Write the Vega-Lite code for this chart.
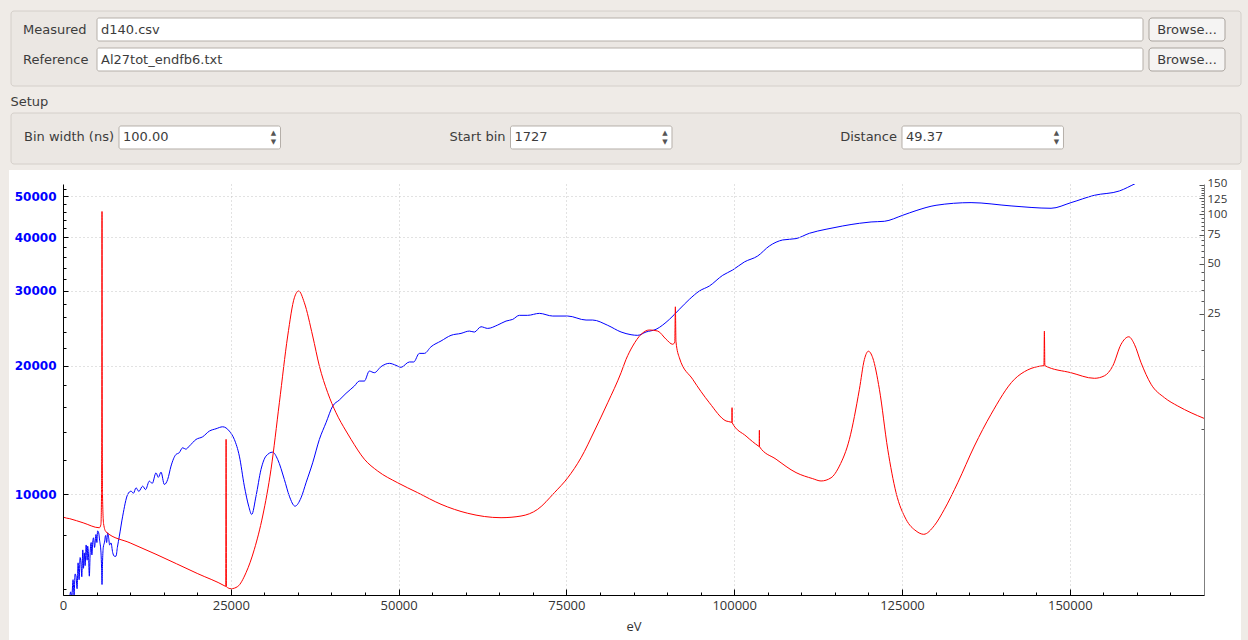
{
  "$schema": "https://vega.github.io/schema/vega-lite/v6.json",
  "background": "#efebe7",
  "padding": {"left": 8, "top": 10, "right": 8, "bottom": 0},
  "bounds": "flush",
  "spacing": 20,
  "config": {"view": {"stroke": null}, "font": "DejaVu Sans"},
  "datasets": {
    "files": [
      {"label": "Measured", "file": "d140.csv"},
      {"label": "Reference", "file": "Al27tot_endfb6.txt"}
    ],
    "setup": [
      {"label": "Bin width (ns)", "value": "100.00"},
      {"label": "Start bin", "value": "1727"},
      {"label": "Distance", "value": "49.37"}
    ],
    "measured": [
      {"E": 900, "c": 5500}, {"E": 1150, "c": 5900}, {"E": 1300, "c": 5700}, {"E": 1500, "c": 6300}, {"E": 1650, "c": 5800},
      {"E": 1800, "c": 6500}, {"E": 1937, "c": 6421}, {"E": 2100, "c": 6000}, {"E": 2250, "c": 6900}, {"E": 2400, "c": 6300},
      {"E": 2550, "c": 7100}, {"E": 2682, "c": 6900}, {"E": 2800, "c": 6400}, {"E": 2950, "c": 7400}, {"E": 3050, "c": 6700},
      {"E": 3179, "c": 7281}, {"E": 3300, "c": 6800}, {"E": 3450, "c": 7600}, {"E": 3600, "c": 7000}, {"E": 3675, "c": 7550},
      {"E": 3800, "c": 7200}, {"E": 3924, "c": 6421}, {"E": 4050, "c": 7300}, {"E": 4200, "c": 7700}, {"E": 4300, "c": 7200},
      {"E": 4421, "c": 7686}, {"E": 4550, "c": 7900}, {"E": 4700, "c": 7500}, {"E": 4917, "c": 8042}, {"E": 5050, "c": 7700},
      {"E": 5150, "c": 8200}, {"E": 5315, "c": 8114}, {"E": 5450, "c": 7800}, {"E": 5662, "c": 7281}, {"E": 5750, "c": 6700},
      {"E": 5812, "c": 6138}, {"E": 5900, "c": 7000}, {"E": 6000, "c": 7500}, {"E": 6159, "c": 7686}, {"E": 6350, "c": 8000},
      {"E": 6500, "c": 7700}, {"E": 6656, "c": 8114}, {"E": 6800, "c": 7900}, {"E": 6950, "c": 7600}, {"E": 7153, "c": 7686},
      {"E": 7400, "c": 7300}, {"E": 7649, "c": 7151}, {"E": 7898, "c": 7151}, {"E": 8100, "c": 7500}, {"E": 8395, "c": 7970},
      {"E": 8891, "c": 8878}, {"E": 9636, "c": 9984}, {"E": 10133, "c": 10163}, {"E": 10500, "c": 10050}, {"E": 10878, "c": 10349},
      {"E": 11300, "c": 10150}, {"E": 11871, "c": 10442}, {"E": 12300, "c": 10250}, {"E": 12865, "c": 10728}, {"E": 13300, "c": 10600},
      {"E": 13858, "c": 11220}, {"E": 14200, "c": 10950}, {"E": 14603, "c": 11261}, {"E": 15100, "c": 10537}, {"E": 15597, "c": 10825},
      {"E": 16093, "c": 11635}, {"E": 16838, "c": 12393}, {"E": 17300, "c": 12500}, {"E": 17831, "c": 12848}, {"E": 18300, "c": 12750},
      {"E": 18825, "c": 12964}, {"E": 19818, "c": 13436}, {"E": 20812, "c": 13633}, {"E": 21805, "c": 14057}, {"E": 22799, "c": 14236},
      {"E": 23792, "c": 14389}, {"E": 24785, "c": 14057}, {"E": 25530, "c": 13436}, {"E": 26276, "c": 12282}, {"E": 27021, "c": 10442},
      {"E": 27667, "c": 9372}, {"E": 28114, "c": 8961}, {"E": 28757, "c": 9892}, {"E": 29502, "c": 11428}, {"E": 30247, "c": 12282},
      {"E": 31241, "c": 12547}, {"E": 31986, "c": 12060}, {"E": 32980, "c": 10825}, {"E": 33724, "c": 9892}, {"E": 34569, "c": 9372},
      {"E": 35463, "c": 9804}, {"E": 36208, "c": 10632}, {"E": 37201, "c": 11846}, {"E": 38195, "c": 13436}, {"E": 39188, "c": 14710},
      {"E": 40182, "c": 16089}, {"E": 41175, "c": 16629}, {"E": 42169, "c": 17236}, {"E": 43409, "c": 17930}, {"E": 44154, "c": 18420},
      {"E": 44899, "c": 18420}, {"E": 45644, "c": 19440}, {"E": 46389, "c": 19270}, {"E": 47382, "c": 19910}, {"E": 48624, "c": 20270},
      {"E": 49618, "c": 20050}, {"E": 50363, "c": 19840}, {"E": 51604, "c": 20420}, {"E": 52250, "c": 20420}, {"E": 53094, "c": 21390},
      {"E": 53839, "c": 21390}, {"E": 54833, "c": 22170}, {"E": 56323, "c": 22870}, {"E": 57813, "c": 23580}, {"E": 59303, "c": 23830},
      {"E": 60545, "c": 24130}, {"E": 61290, "c": 24000}, {"E": 62283, "c": 24700}, {"E": 63277, "c": 24480}, {"E": 64767, "c": 24930},
      {"E": 66009, "c": 25470}, {"E": 67002, "c": 25700}, {"E": 67995, "c": 26270}, {"E": 69237, "c": 26270}, {"E": 70976, "c": 26550},
      {"E": 72963, "c": 26170}, {"E": 75198, "c": 26170}, {"E": 77930, "c": 25610}, {"E": 78915, "c": 25610}, {"E": 81158, "c": 24890},
      {"E": 83145, "c": 24010}, {"E": 84635, "c": 23660}, {"E": 85625, "c": 23580}, {"E": 86867, "c": 24010}, {"E": 88357, "c": 24360},
      {"E": 90344, "c": 25700}, {"E": 91834, "c": 27140}, {"E": 93324, "c": 28640}, {"E": 94814, "c": 29960}, {"E": 96304, "c": 30780},
      {"E": 98291, "c": 32610}, {"E": 99777, "c": 33560}, {"E": 101520, "c": 35050}, {"E": 103507, "c": 36200}, {"E": 105245, "c": 38210},
      {"E": 107232, "c": 39470}, {"E": 109219, "c": 39760}, {"E": 111206, "c": 40920}, {"E": 113689, "c": 41820}, {"E": 116172, "c": 42570},
      {"E": 118656, "c": 43190}, {"E": 120395, "c": 43500}, {"E": 122381, "c": 43660}, {"E": 125113, "c": 45100}, {"E": 127100, "c": 46250},
      {"E": 130077, "c": 47600}, {"E": 135292, "c": 48290}, {"E": 141253, "c": 47440}, {"E": 147213, "c": 46840}, {"E": 150194, "c": 48290},
      {"E": 153670, "c": 50240}, {"E": 157395, "c": 51430}, {"E": 159879, "c": 53620}, {"E": 163000, "c": 56500}
    ],
    "reference": [
      {"E": 0, "xs": 28.0}, {"E": 40, "xs": 1.46}, {"E": 1000, "xs": 1.43}, {"E": 3000, "xs": 1.35}, {"E": 5414, "xs": 1.26},
      {"E": 5650, "xs": 1.32}, {"E": 5740, "xs": 2.0}, {"E": 5790, "xs": 10}, {"E": 5812, "xs": 104}, {"E": 5835, "xs": 10},
      {"E": 5885, "xs": 2.0}, {"E": 6050, "xs": 1.33}, {"E": 6408, "xs": 1.19}, {"E": 10000, "xs": 1.02}, {"E": 13858, "xs": 0.87},
      {"E": 20000, "xs": 0.666}, {"E": 24150, "xs": 0.558}, {"E": 24250, "xs": 0.555},
      {"E": 24300, "xs": 4.33}, {"E": 24350, "xs": 0.553}, {"E": 25033, "xs": 0.538}, {"E": 26026, "xs": 0.555}, {"E": 27270, "xs": 0.673},
      {"E": 28510, "xs": 0.933}, {"E": 29752, "xs": 1.484}, {"E": 30994, "xs": 2.85}, {"E": 32236, "xs": 7.21}, {"E": 33478, "xs": 18.3},
      {"E": 34471, "xs": 31.2}, {"E": 35117, "xs": 34.3}, {"E": 35962, "xs": 29.1}, {"E": 37201, "xs": 18.3}, {"E": 38195, "xs": 12.04},
      {"E": 39436, "xs": 8.30}, {"E": 40678, "xs": 6.27}, {"E": 42169, "xs": 4.86}, {"E": 42912, "xs": 4.33}, {"E": 44899, "xs": 3.28},
      {"E": 46886, "xs": 2.78}, {"E": 49866, "xs": 2.36}, {"E": 52846, "xs": 2.055}, {"E": 56323, "xs": 1.748}, {"E": 60297, "xs": 1.542},
      {"E": 65264, "xs": 1.45}, {"E": 68244, "xs": 1.484}, {"E": 70727, "xs": 1.63}, {"E": 73211, "xs": 2.055}, {"E": 75198, "xs": 2.53},
      {"E": 77185, "xs": 3.35}, {"E": 79171, "xs": 4.86}, {"E": 81158, "xs": 7.21}, {"E": 83145, "xs": 10.96}, {"E": 83887, "xs": 13.2},
      {"E": 84880, "xs": 15.9}, {"E": 86122, "xs": 18.7}, {"E": 87364, "xs": 19.9}, {"E": 88606, "xs": 19.6}, {"E": 89848, "xs": 17.5},
      {"E": 90841, "xs": 16.3}, {"E": 91150, "xs": 16.8}, {"E": 91238, "xs": 27.5}, {"E": 91330, "xs": 16.9}, {"E": 91834, "xs": 13.5},
      {"E": 93821, "xs": 10.0}, {"E": 96304, "xs": 7.21}, {"E": 98788, "xs": 5.59}, {"E": 99600, "xs": 5.49}, {"E": 99670, "xs": 5.47},
      {"E": 99682, "xs": 6.73}, {"E": 99694, "xs": 5.46}, {"E": 101768, "xs": 4.53}, {"E": 103650, "xs": 3.93}, {"E": 103730, "xs": 3.91},
      {"E": 103755, "xs": 4.91}, {"E": 103780, "xs": 3.90}, {"E": 106239, "xs": 3.28}, {"E": 109219, "xs": 2.72}, {"E": 111703, "xs": 2.50},
      {"E": 112945, "xs": 2.42}, {"E": 114434, "xs": 2.53},
      {"E": 115676, "xs": 2.98}, {"E": 117166, "xs": 4.33}, {"E": 118656, "xs": 8.70}, {"E": 119401, "xs": 13.2}, {"E": 119997, "xs": 14.8},
      {"E": 120643, "xs": 13.5}, {"E": 121636, "xs": 8.70}, {"E": 122878, "xs": 3.77}, {"E": 124119, "xs": 2.055}, {"E": 125609, "xs": 1.417},
      {"E": 127100, "xs": 1.205}, {"E": 128239, "xs": 1.15}, {"E": 129829, "xs": 1.30}, {"E": 131319, "xs": 1.63}, {"E": 133306, "xs": 2.36},
      {"E": 135789, "xs": 3.94}, {"E": 138272, "xs": 6.14}, {"E": 141749, "xs": 10.0}, {"E": 143736, "xs": 11.4}, {"E": 145723, "xs": 12.04},
      {"E": 146150, "xs": 12.1}, {"E": 146220, "xs": 19.6}, {"E": 146290, "xs": 12.1}, {"E": 150194, "xs": 10.96}, {"E": 153670, "xs": 10.14},
      {"E": 155163, "xs": 10.5}, {"E": 156404, "xs": 12.04}, {"E": 157645, "xs": 16.3}, {"E": 158788, "xs": 18.1}, {"E": 159631, "xs": 16.3},
      {"E": 160625, "xs": 12.6}, {"E": 162116, "xs": 9.33}, {"E": 164103, "xs": 7.74}, {"E": 166090, "xs": 6.89}, {"E": 168077, "xs": 6.27},
      {"E": 170000, "xs": 5.8}
    ]
  },
  "vconcat": [
    {
      "width": 1141,
      "height": 82,
      "resolve": {"scale": {"y": "independent"}},
      "layer": [
        {
          "data": {"values": [{}]},
          "mark": {"type": "rect", "fill": "#ebe7e3", "stroke": "#d4cfca", "cornerRadius": 3},
          "encoding": {
            "x": {"datum": 10, "type": "quantitative", "scale": {"domain": [62, 1203], "nice": false, "zero": false}, "axis": null},
            "x2": {"datum": 1240},
            "y": {"datum": 82, "type": "quantitative", "scale": {"domain": [0, 82], "nice": false, "zero": false}, "axis": null},
            "y2": {"datum": 7}
          }
        },
        {
          "data": {"name": "files"},
          "encoding": {
            "y": {"field": "label", "type": "nominal", "sort": null, "axis": null,
                  "scale": {"paddingInner": 0.2333, "paddingOuter": 0.4833, "align": 0.2414}}
          },
          "layer": [
            {
              "mark": {"type": "rect", "fill": "#ffffff", "stroke": "#b5afa9", "cornerRadius": 2},
              "encoding": {
                "x": {"datum": 96, "type": "quantitative", "scale": {"domain": [62, 1203], "nice": false, "zero": false}, "axis": null},
                "x2": {"datum": 1142}
              }
            },
            {
              "mark": {"type": "rect", "fill": "#f5f4f3", "stroke": "#a9a39d", "cornerRadius": 3},
              "encoding": {
                "x": {"datum": 1148, "type": "quantitative", "axis": null},
                "x2": {"datum": 1224}
              }
            },
            {
              "mark": {"type": "text", "align": "left", "baseline": "middle", "fontSize": 13, "color": "#3c3c3c"},
              "encoding": {"x": {"datum": 22, "type": "quantitative", "axis": null}, "text": {"field": "label"}}
            },
            {
              "mark": {"type": "text", "align": "left", "baseline": "middle", "fontSize": 13, "color": "#3c3c3c"},
              "encoding": {"x": {"datum": 100, "type": "quantitative", "axis": null}, "text": {"field": "file"}}
            },
            {
              "mark": {"type": "text", "align": "center", "baseline": "middle", "fontSize": 13, "color": "#3c3c3c"},
              "encoding": {"x": {"datum": 1186, "type": "quantitative", "axis": null}, "text": {"value": "Browse..."}}
            }
          ]
        }
      ]
    },
    {
      "width": 1141,
      "height": 51,
      "title": {"text": "Setup", "anchor": "start", "frame": "bounds", "fontSize": 13, "fontWeight": "normal", "font": "DejaVu Sans", "color": "#3c3c3c", "offset": 4},
      "resolve": {"scale": {"x": "independent"}},
      "layer": [
        {
          "data": {"values": [{}]},
          "mark": {"type": "rect", "fill": "#ebe7e3", "stroke": "#d4cfca", "cornerRadius": 3},
          "encoding": {
            "x": {"datum": 10, "type": "quantitative", "scale": {"domain": [62, 1203], "nice": false, "zero": false}, "axis": null},
            "x2": {"datum": 1240}
          }
        },
        {
          "data": {"name": "setup"},
          "encoding": {
            "y": {"datum": "spin", "type": "nominal", "axis": null, "scale": {"paddingInner": 0, "paddingOuter": 0.6087, "align": 0.464}}
          },
          "layer": [
            {
              "mark": {"type": "rect", "fill": "#ffffff", "stroke": "#b5afa9", "cornerRadius": 2},
              "encoding": {
                "x": {"field": "label", "type": "nominal", "sort": null, "axis": null,
                      "scale": {"paddingInner": 0.5875, "paddingOuter": 0.251, "align": 0.285}}
              }
            },
            {
              "mark": {"type": "text", "align": "left", "baseline": "middle", "fontSize": 13, "color": "#3c3c3c", "dx": 4},
              "encoding": {"x": {"field": "label", "type": "nominal", "sort": null, "bandPosition": 0, "axis": null}, "text": {"field": "value"}}
            },
            {
              "mark": {"type": "text", "align": "right", "baseline": "middle", "fontSize": 13, "color": "#3c3c3c", "dx": -5},
              "encoding": {"x": {"field": "label", "type": "nominal", "sort": null, "bandPosition": 0, "axis": null}, "text": {"field": "label"}}
            },
            {
              "mark": {"type": "text", "align": "center", "baseline": "middle", "fontSize": 7, "color": "#555555", "dx": -7, "dy": -4},
              "encoding": {"x": {"field": "label", "type": "nominal", "sort": null, "bandPosition": 1, "axis": null}, "text": {"value": "▲"}}
            },
            {
              "mark": {"type": "text", "align": "center", "baseline": "middle", "fontSize": 7, "color": "#555555", "dx": -7, "dy": 5},
              "encoding": {"x": {"field": "label", "type": "nominal", "sort": null, "bandPosition": 1, "axis": null}, "text": {"value": "▼"}}
            }
          ]
        }
      ]
    },
    {
      "width": 1141,
      "height": 411,
      "resolve": {"scale": {"y": "independent"}},
      "layer": [
        {
          "data": {"values": [{}]},
          "mark": {"type": "rect", "fill": "#ffffff", "clip": false},
          "encoding": {
            "x": {
              "datum": -8046, "type": "quantitative", "title": "eV",
              "scale": {"domain": [0, 170000], "nice": false, "zero": false},
              "axis": {
                "orient": "bottom", "title": "eV", "zindex": 1,
                "values": [0, 5000, 10000, 15000, 20000, 25000, 30000, 35000, 40000, 45000, 50000, 55000, 60000, 65000, 70000, 75000, 80000, 85000, 90000, 95000, 100000, 105000, 110000, 115000, 120000, 125000, 130000, 135000, 140000, 145000, 150000, 155000, 160000, 165000, 170000],
                "format": "d",
                "labelExpr": "datum.value % 25000 === 0 ? datum.label : ''",
                "tickSize": {"condition": {"test": "datum.value % 25000 === 0", "value": -6}, "value": -3},
                "grid": true,
                "gridOpacity": {"condition": {"test": "datum.value % 25000 === 0 && datum.value > 0", "value": 1}, "value": 0},
                "gridColor": "#c4c4c4", "gridDash": [1, 3],
                "domainColor": "#000000", "tickColor": "#000000",
                "labelColor": "#333333", "labelFont": "Open Sans", "labelFontSize": 13, "labelPadding": 10,
                "labelFlush": false, "labelOverlap": false,
                "titleFont": "Open Sans", "titleFontSize": 13, "titleFontWeight": "normal", "titleColor": "#333333", "titlePadding": 5
              }
            },
            "x2": {"datum": 175513},
            "y": {"datum": 57600, "type": "quantitative", "scale": {"type": "log", "domain": [5800, 53400], "nice": false}, "axis": null},
            "y2": {"datum": 4524}
          }
        },
        {
          "data": {"name": "measured"},
          "mark": {"type": "line", "color": "#0000ff", "strokeWidth": 1, "clip": true, "interpolate": "monotone"},
          "encoding": {
            "x": {
              "field": "E", "type": "quantitative", "title": "eV",
              "scale": {"domain": [0, 170000], "nice": false, "zero": false},
              "axis": {
                "orient": "bottom", "title": "eV", "zindex": 1,
                "values": [0, 5000, 10000, 15000, 20000, 25000, 30000, 35000, 40000, 45000, 50000, 55000, 60000, 65000, 70000, 75000, 80000, 85000, 90000, 95000, 100000, 105000, 110000, 115000, 120000, 125000, 130000, 135000, 140000, 145000, 150000, 155000, 160000, 165000, 170000],
                "format": "d",
                "labelExpr": "datum.value % 25000 === 0 ? datum.label : ''",
                "tickSize": {"condition": {"test": "datum.value % 25000 === 0", "value": -6}, "value": -3},
                "grid": true,
                "gridOpacity": {"condition": {"test": "datum.value % 25000 === 0 && datum.value > 0", "value": 1}, "value": 0},
                "gridColor": "#c4c4c4", "gridDash": [1, 3],
                "domainColor": "#000000", "tickColor": "#000000",
                "labelColor": "#333333", "labelFont": "Open Sans", "labelFontSize": 13, "labelPadding": 10,
                "labelFlush": false, "labelOverlap": false,
                "titleFont": "Open Sans", "titleFontSize": 13, "titleFontWeight": "normal", "titleColor": "#333333", "titlePadding": 5
              }
            },
            "y": {
              "field": "c", "type": "quantitative",
              "scale": {"type": "log", "domain": [5800, 53400], "nice": false},
              "axis": {
                "orient": "left", "title": null, "zindex": 1,
                "values": [6000, 8000, 10000, 12000, 14000, 16000, 18000, 20000, 22000, 24000, 26000, 28000, 30000, 32000, 34000, 36000, 38000, 40000, 42000, 44000, 46000, 48000, 50000, 52000],
                "format": "d",
                "labelExpr": "datum.value % 10000 === 0 ? datum.label : ''",
                "tickSize": {"condition": {"test": "datum.value % 10000 === 0", "value": -5}, "value": -3},
                "grid": true,
                "gridOpacity": {"condition": {"test": "datum.value % 10000 === 0", "value": 1}, "value": 0},
                "gridColor": "#c4c4c4", "gridDash": [1, 3],
                "domainColor": "#000000", "tickColor": "#000000",
                "labelColor": "#0000ff", "labelFont": "DejaVu Sans", "labelFontWeight": "bold", "labelFontSize": 12,
                "labelPadding": 12, "labelOverlap": false, "labelFlush": false
              }
            }
          }
        },
        {
          "data": {"name": "reference"},
          "mark": {"type": "line", "color": "#ff0000", "strokeWidth": 1, "clip": true, "interpolate": "monotone"},
          "encoding": {
            "x": {
              "field": "E", "type": "quantitative", "title": "eV",
              "scale": {"domain": [0, 170000], "nice": false, "zero": false},
              "axis": {
                "orient": "bottom", "title": "eV", "zindex": 1,
                "values": [0, 5000, 10000, 15000, 20000, 25000, 30000, 35000, 40000, 45000, 50000, 55000, 60000, 65000, 70000, 75000, 80000, 85000, 90000, 95000, 100000, 105000, 110000, 115000, 120000, 125000, 130000, 135000, 140000, 145000, 150000, 155000, 160000, 165000, 170000],
                "format": "d",
                "labelExpr": "datum.value % 25000 === 0 ? datum.label : ''",
                "tickSize": {"condition": {"test": "datum.value % 25000 === 0", "value": -6}, "value": -3},
                "grid": true,
                "gridOpacity": {"condition": {"test": "datum.value % 25000 === 0 && datum.value > 0", "value": 1}, "value": 0},
                "gridColor": "#c4c4c4", "gridDash": [1, 3],
                "domainColor": "#000000", "tickColor": "#000000",
                "labelColor": "#333333", "labelFont": "Open Sans", "labelFontSize": 13, "labelPadding": 10,
                "labelFlush": false, "labelOverlap": false,
                "titleFont": "Open Sans", "titleFontSize": 13, "titleFontWeight": "normal", "titleColor": "#333333", "titlePadding": 5
              }
            },
            "y": {
              "field": "xs", "type": "quantitative",
              "scale": {"type": "log", "domain": [0.493, 152.6], "nice": false},
              "axis": {
                "orient": "right", "title": null, "zindex": 1,
                "values": [5, 10, 15, 20, 25, 30, 35, 40, 45, 50, 55, 60, 65, 70, 75, 80, 85, 90, 95, 100, 105, 110, 115, 120, 125, 130, 135, 140, 145, 150],
                "format": "d",
                "labelExpr": "datum.value % 25 === 0 ? datum.label : ''",
                "tickSize": {"condition": {"test": "datum.value % 25 === 0", "value": -5}, "value": -3},
                "grid": false,
                "domainColor": "#7f7f7f", "tickColor": "#555555",
                "labelColor": "#333333", "labelFont": "Open Sans", "labelFontSize": 11.5, "labelPadding": 8,
                "labelOffset": {"condition": [{"test": "datum.value === 150", "value": -2}, {"test": "datum.value === 125", "value": 1.5}], "value": 0},
                "labelOverlap": false, "labelFlush": false
              }
            }
          }
        }
      ]
    }
  ]
}
